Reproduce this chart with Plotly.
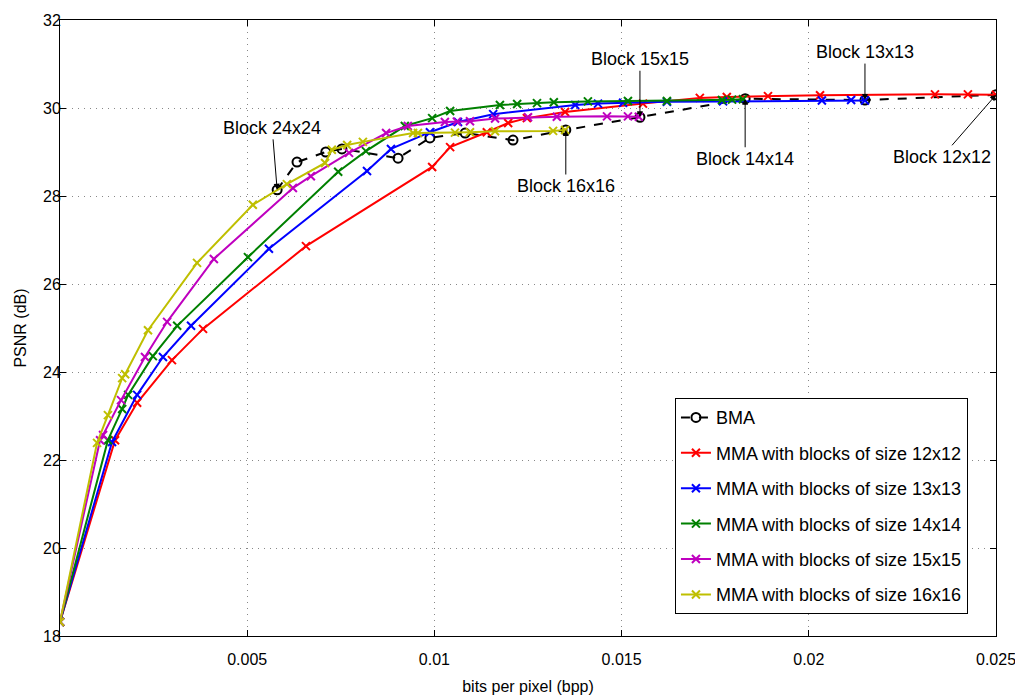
import plotly.graph_objects as go

# ---------------- data ----------------
bma_x = [0.00580, 0.00633, 0.00710, 0.00753, 0.00903, 0.00988, 0.01082, 0.01210, 0.01351, 0.01549, 0.01830, 0.02150, 0.02500]
bma_y = [28.14, 28.77, 29.00, 29.07, 28.86, 29.32, 29.43, 29.27, 29.50, 29.79, 30.21, 30.18, 30.30]

mma12_x = [0, 0.00147, 0.00206, 0.00299, 0.00382, 0.00657, 0.00994, 0.01042, 0.01140, 0.01197, 0.01247, 0.01349, 0.01557, 0.01709, 0.01781, 0.01891, 0.02030, 0.02337, 0.02425, 0.02500]
mma12_y = [18.32, 22.45, 23.30, 24.27, 24.98, 26.86, 28.66, 29.11, 29.45, 29.66, 29.77, 29.91, 30.10, 30.23, 30.25, 30.27, 30.29, 30.31, 30.31, 30.30]

mma13_x = [0, 0.00139, 0.00206, 0.00275, 0.00350, 0.00558, 0.00820, 0.00884, 0.00988, 0.01063, 0.01157, 0.01376, 0.01437, 0.01504, 0.01621, 0.01771, 0.02035, 0.02113, 0.02150]
mma13_y = [18.32, 22.41, 23.48, 24.34, 25.05, 26.80, 28.57, 29.07, 29.45, 29.68, 29.86, 30.07, 30.10, 30.12, 30.14, 30.15, 30.17, 30.18, 30.17]

mma14_x = [0, 0.00128, 0.00166, 0.00182, 0.00248, 0.00313, 0.00502, 0.00743, 0.00817, 0.00921, 0.00994, 0.01042, 0.01175, 0.01221, 0.01274, 0.01319, 0.01410, 0.01517, 0.01621, 0.01768, 0.01795, 0.01824]
mma14_y = [18.32, 22.45, 23.16, 23.48, 24.36, 25.05, 26.61, 28.55, 29.02, 29.59, 29.77, 29.93, 30.07, 30.09, 30.11, 30.13, 30.15, 30.16, 30.16, 30.18, 30.19, 30.20]

mma15_x = [0, 0.00107, 0.00115, 0.00163, 0.00227, 0.00286, 0.00411, 0.00622, 0.00670, 0.00772, 0.00871, 0.00929, 0.01028, 0.01060, 0.01095, 0.01162, 0.01250, 0.01327, 0.01461, 0.01517, 0.01546]
mma15_y = [18.32, 22.45, 22.57, 23.36, 24.34, 25.14, 26.57, 28.18, 28.45, 28.98, 29.43, 29.59, 29.68, 29.69, 29.70, 29.76, 29.79, 29.80, 29.81, 29.81, 29.80]

mma16_x = [0, 0.00099, 0.00128, 0.00166, 0.00174, 0.00235, 0.00366, 0.00515, 0.00606, 0.00708, 0.00726, 0.00767, 0.00809, 0.00943, 0.00956, 0.01055, 0.01095, 0.01162, 0.01317, 0.01349]
mma16_y = [18.32, 22.39, 23.02, 23.86, 23.95, 24.95, 26.48, 27.80, 28.27, 28.75, 29.05, 29.16, 29.23, 29.43, 29.43, 29.44, 29.45, 29.47, 29.48, 29.50]

series_names = ["MMA with blocks of size 12x12", "MMA with blocks of size 13x13",
                "MMA with blocks of size 14x14", "MMA with blocks of size 15x15",
                "MMA with blocks of size 16x16"]
series_x = [mma12_x, mma13_x, mma14_x, mma15_x, mma16_x]
series_y = [mma12_y, mma13_y, mma14_y, mma15_y, mma16_y]
series_colors = ["#FF0000", "#0000FF", "#008000", "#BF00BF", "#BFBF00"]

x_ticks = [0.005, 0.01, 0.015, 0.02, 0.025]
x_ticklabels = ["0.005", "0.01", "0.015", "0.02", "0.025"]
y_ticks = [18, 20, 22, 24, 26, 28, 30, 32]

# annotation labels: (text, index into BMA arrays, ax, ay offsets in px)
block_labels = [
    ("Block 24x24", 0, -5, -62),
    ("Block 16x16", 8, 0, 56),
    ("Block 15x15", 9, 0, -58),
    ("Block 14x14", 10, 0, 60),
    ("Block 13x13", 11, 0, -48),
    ("Block 12x12", 12, -54, 62),
]

FONT = "Liberation Sans, Arial, Helvetica, sans-serif"

fig = go.Figure()

fig.add_trace(go.Scatter(
    x=bma_x, y=bma_y, name="BMA", mode="lines+markers",
    line=dict(color="black", width=2, dash="dash"),
    marker=dict(symbol="circle-open", size=9, color="black", line=dict(width=2)),
    legendgroup="bma",
))

for name, xs, ys, c in zip(series_names, series_x, series_y, series_colors):
    fig.add_trace(go.Scatter(
        x=xs, y=ys, name=name, mode="lines+markers",
        line=dict(color=c, width=2),
        marker=dict(symbol="x-thin", size=8, color=c, line=dict(color=c, width=2)),
        legendgroup=name,
    ))

for text, idx, ax, ay in block_labels:
    fig.add_annotation(
        x=bma_x[idx], y=bma_y[idx], text=text, showarrow=True,
        ax=ax, ay=ay, arrowhead=2, arrowsize=1.2, arrowwidth=1, arrowcolor="black",
        font=dict(family=FONT, size=18, color="black"),
    )

# page body adds an 8px margin, so the figure is sized to fit the window
fig.update_layout(
    width=1015, height=690,
    margin=dict(l=52, r=27, t=12, b=62, autoexpand=False),
    paper_bgcolor="white", plot_bgcolor="white",
    font=dict(family=FONT, size=16, color="black"),
    showlegend=True,
    legend=dict(
        x=0.657, y=0.386, xanchor="left", yanchor="top",
        bgcolor="white", bordercolor="black", borderwidth=1,
        font=dict(family=FONT, size=18, color="black"),
        tracegroupgap=9, itemwidth=30,
    ),
)

fig.update_xaxes(
    range=[0, 0.025], tickvals=x_ticks, ticktext=x_ticklabels,
    showline=True, linecolor="black", linewidth=1, mirror="ticks",
    ticks="inside", ticklen=6, tickcolor="black",
    showgrid=True, gridcolor="#888888", griddash="1px,5px", gridwidth=1,
    zeroline=False, automargin=False, ticklabelstandoff=9,
    title=dict(text="bits per pixel (bpp)", font=dict(size=16), standoff=13),
    tickfont=dict(size=16),
)
fig.update_yaxes(
    range=[18, 32], tickvals=y_ticks,
    showline=True, linecolor="black", linewidth=1, mirror="ticks",
    ticks="inside", ticklen=6, tickcolor="black",
    showgrid=True, gridcolor="#888888", griddash="1px,5px", gridwidth=1,
    zeroline=False, automargin=False, ticklabelstandoff=-5,
    title=dict(text="PSNR (dB)", font=dict(size=16), standoff=12),
    tickfont=dict(size=16),
)

fig.write_html("out.html")
